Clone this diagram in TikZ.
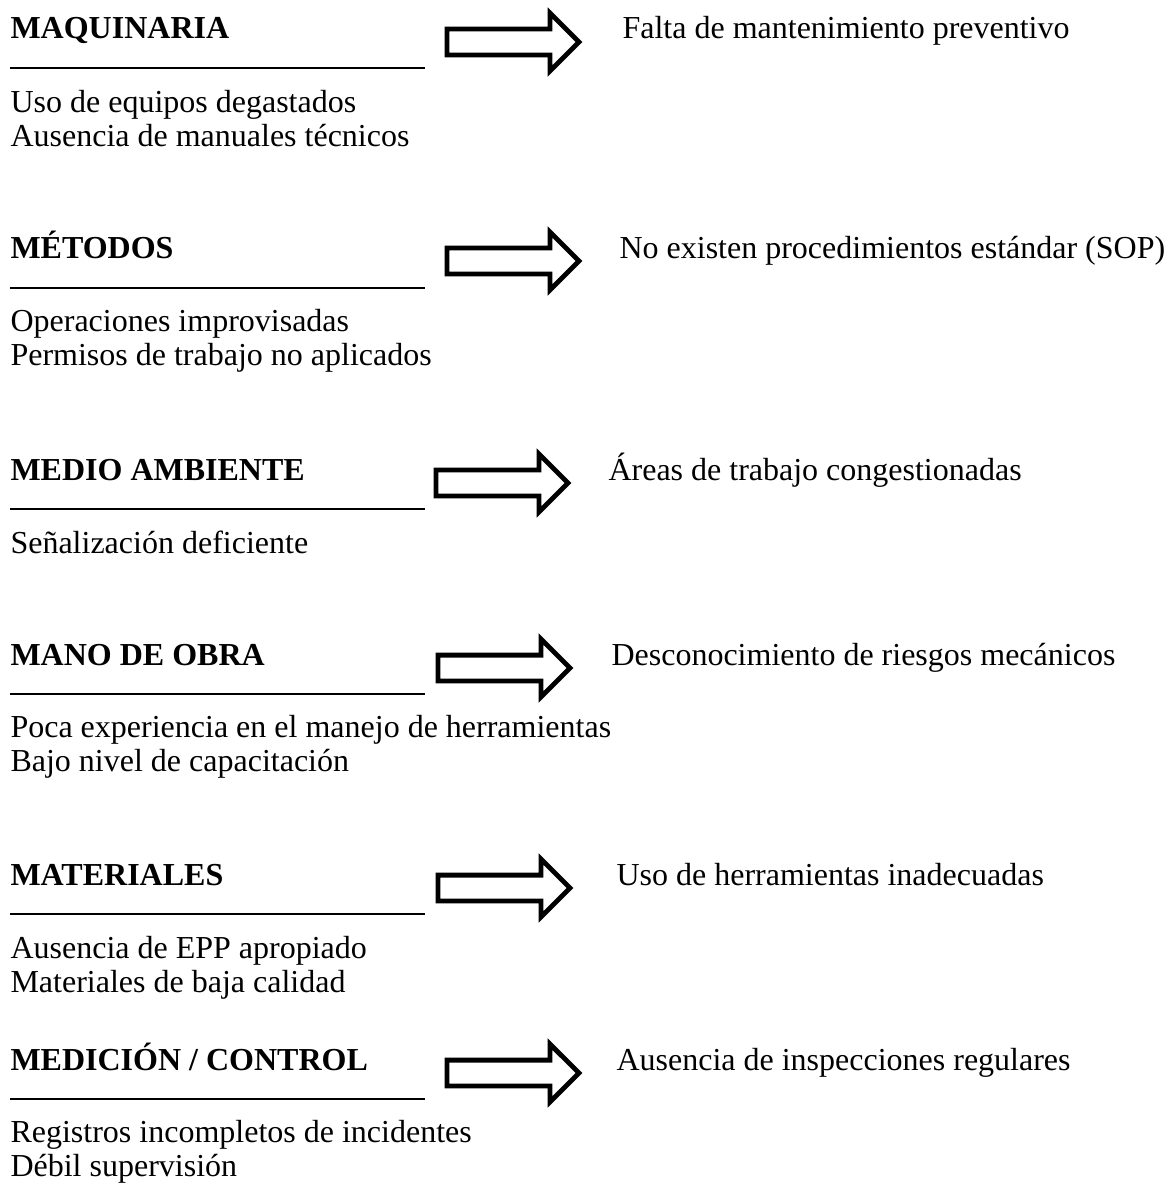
\documentclass[tikz,border=0pt]{standalone}
\usepackage{fontspec}
\setmainfont{Liberation Serif}
\usetikzlibrary{shapes.arrows, positioning}

\begin{document}
\begin{tikzpicture}[
  x=0.375pt, y=-0.375pt,
  titulo/.style={anchor=base west, inner sep=0pt, font=\fontsize{12}{14}\selectfont\bfseries},
  causa/.style={anchor=base west, inner sep=0pt, font=\fontsize{12}{14}\selectfont},
  efecto/.style={anchor=base west, inner sep=0pt, font=\fontsize{12}{14}\selectfont},
  flecha/.style={single arrow, draw=black, line width=1.8pt, anchor=tail, minimum height=49.5pt, inner xsep=0pt, inner ysep=3.94pt, single arrow head extend=6pt, single arrow tip angle=90},
  regla/.style={draw=black, line width=0.8pt}
]
\useasboundingbox (0,0) rectangle (1173,1184);

% Maquinaria
\node[titulo] (m1) at (10,39) {MAQUINARIA};
\draw[regla] (10,68) -- (425,68);
\node[flecha] (a1) at (444.5,42) {};
\node[efecto] (e1) at (622,39) {Falta de mantenimiento preventivo};
\node[causa] (c1a) at (10,112) {Uso de equipos degastados};
\node[causa, below=13.1pt of c1a.base west, anchor=base west] (c1b) {Ausencia de manuales técnicos};

% Metodos
\node[titulo] (m2) at (10,258) {MÉTODOS};
\draw[regla] (10,288) -- (425,288);
\node[flecha] (a2) at (444.5,261) {};
\node[efecto] (e2) at (619,258) {No existen procedimientos estándar (SOP)};
\node[causa] (c2a) at (10,331) {Operaciones improvisadas};
\node[causa, below=13.1pt of c2a.base west, anchor=base west] (c2b) {Permisos de trabajo no aplicados};

% Medio ambiente
\node[titulo] (m3) at (10,480) {MEDIO AMBIENTE};
\draw[regla] (10,509) -- (425,509);
\node[flecha] (a3) at (433.5,483) {};
\node[efecto] (e3) at (608,480) {Áreas de trabajo congestionadas};
\node[causa] (c3a) at (10,553) {Señalización deficiente};

% Mano de obra
\node[titulo] (m4) at (10,665) {MANO DE OBRA};
\draw[regla] (10,694) -- (425,694);
\node[flecha] (a4) at (435.5,668) {};
\node[efecto] (e4) at (611,665) {Desconocimiento de riesgos mecánicos};
\node[causa] (c4a) at (10,737) {Poca experiencia en el manejo de herramientas};
\node[causa, below=13.1pt of c4a.base west, anchor=base west] (c4b) {Bajo nivel de capacitación};

% Materiales
\node[titulo] (m5) at (10,885) {MATERIALES};
\draw[regla] (10,914) -- (425,914);
\node[flecha] (a5) at (435.5,888) {};
\node[efecto] (e5) at (616,885) {Uso de herramientas inadecuadas};
\node[causa] (c5a) at (10,958) {Ausencia de EPP apropiado};
\node[causa, below=13.1pt of c5a.base west, anchor=base west] (c5b) {Materiales de baja calidad};

% Medicion / control
\node[titulo] (m6) at (10,1070) {MEDICIÓN / CONTROL};
\draw[regla] (10,1099) -- (425,1099);
\node[flecha] (a6) at (444.5,1073) {};
\node[efecto] (e6) at (616,1070) {Ausencia de inspecciones regulares};
\node[causa] (c6a) at (10,1142) {Registros incompletos de incidentes};
\node[causa, below=13.1pt of c6a.base west, anchor=base west] (c6b) {Débil supervisión};
\end{tikzpicture}
\end{document}
